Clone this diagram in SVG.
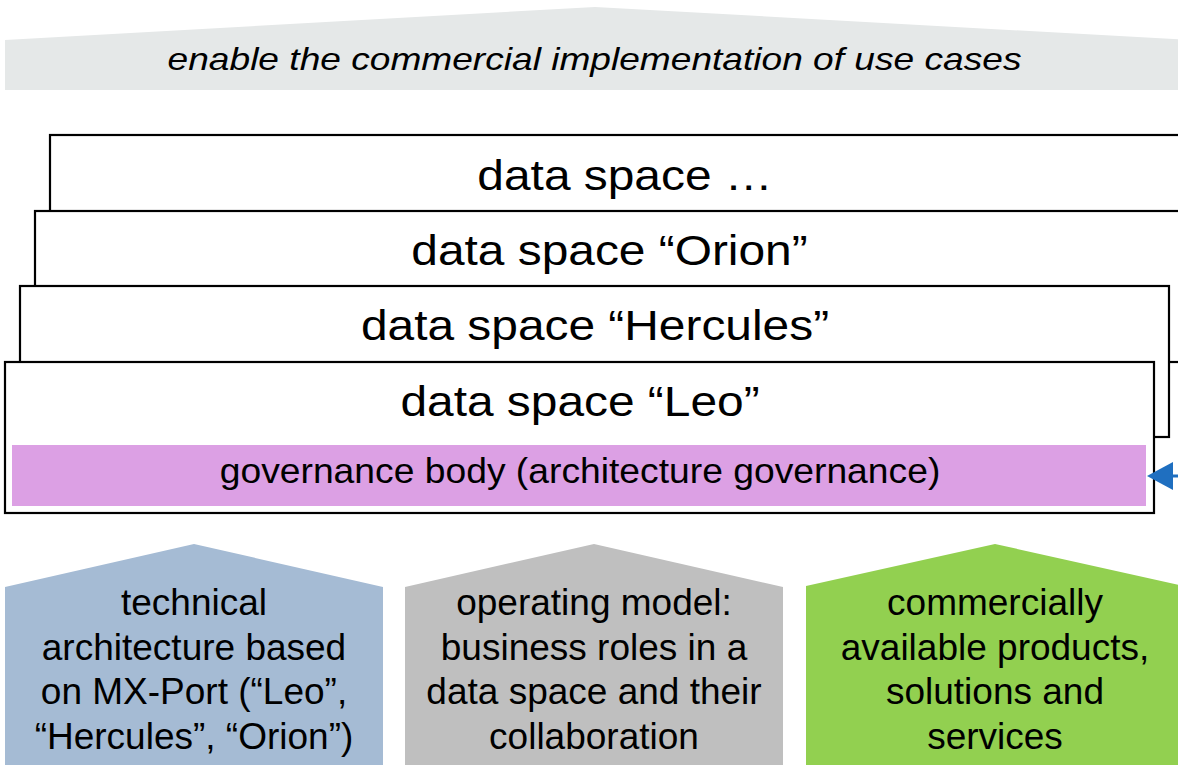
<svg xmlns="http://www.w3.org/2000/svg" width="1178" height="765" viewBox="0 0 1178 765">
  <style>
    text { font-family: "Liberation Sans", Arial, sans-serif; fill: #000; text-anchor: middle; }
    .ds { fill: #fff; stroke: #000; stroke-width: 2.2; }
    .dst { font-size: 42px; }
    .pt { font-size: 37px; }
  </style>
  <rect width="1178" height="765" fill="#fff"/>

  <g id="banner">
    <polygon points="5,40 595,7 1190,40 1190,90 5,90" fill="#e5e8e8"/>
    <text transform="translate(594.5,70) scale(1.16,1)" font-size="32" font-style="italic">enable the commercial implementation of use cases</text>
  </g>

  <g id="ds-more">
    <rect class="ds" x="50" y="135" width="1150" height="151"/>
    <text class="dst" transform="translate(625,190) scale(1.14,1)">data space …</text>
  </g>
  <g id="ds-orion">
    <rect class="ds" x="35" y="211" width="1150" height="151"/>
    <text class="dst" transform="translate(609.5,265) scale(1.14,1)">data space “Orion”</text>
  </g>
  <g id="ds-hercules">
    <rect class="ds" x="20" y="286" width="1149" height="151"/>
    <text class="dst" transform="translate(595,340) scale(1.14,1)">data space “Hercules”</text>
  </g>
  <g id="ds-leo">
    <rect class="ds" x="5" y="362" width="1149" height="151"/>
    <text class="dst" transform="translate(580,416) scale(1.14,1)">data space “Leo”</text>
  </g>
  <g id="governance">
    <rect x="12" y="445" width="1134" height="61" fill="#dca0e4"/>
    <text transform="translate(580,483) scale(1.035,1)" font-size="36">governance body (architecture governance)</text>
  </g>

  <g id="connectors">
    <line x1="1190" y1="476" x2="1172" y2="476" stroke="#1f6fc0" stroke-width="3"/>
    <path d="M1147,476 L1173,462 L1173,490 Z" fill="#1f6fc0"/>
  </g>

  <g id="technical">
    <polygon points="5,587 194,544 383,587 383,765 5,765" fill="#a5bbd4"/>
    <text class="pt" x="194" y="615">technical</text>
    <text class="pt" x="194" y="659.5">architecture based</text>
    <text class="pt" x="194" y="704">on MX-Port (“Leo”,</text>
    <text class="pt" x="194" y="748.5">“Hercules”, “Orion”)</text>
  </g>
  <g id="operating">
    <polygon points="405,587 594,544 783,587 783,765 405,765" fill="#bfbfbf"/>
    <text class="pt" x="594" y="615">operating model:</text>
    <text class="pt" x="594" y="659.5">business roles in a</text>
    <text class="pt" x="594" y="704">data space and their</text>
    <text class="pt" x="594" y="748.5">collaboration</text>
  </g>
  <g id="commercial">
    <polygon points="806,586 995,544 1184,586 1184,765 806,765" fill="#92d050"/>
    <text class="pt" x="995" y="615">commercially</text>
    <text class="pt" x="995" y="659.5">available products,</text>
    <text class="pt" x="995" y="704">solutions and</text>
    <text class="pt" x="995" y="748.5">services</text>
  </g>
</svg>
